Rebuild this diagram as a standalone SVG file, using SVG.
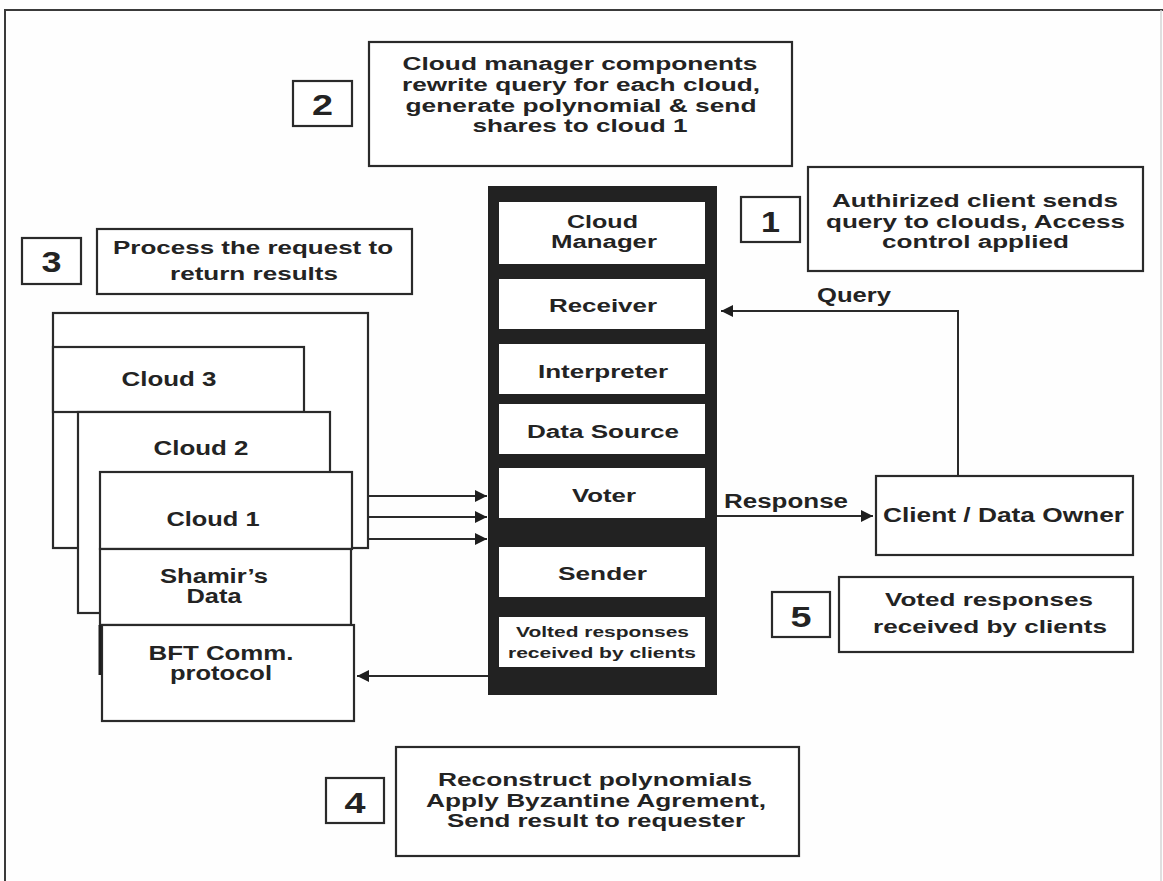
<svg xmlns="http://www.w3.org/2000/svg" width="1163" height="881" viewBox="0 0 1163 881">
  <style>
    .bg { fill: #fefefe; }
    .box { fill: #ffffff; stroke: #2a2a2a; stroke-width: 2.2; }
    .frame { fill: none; stroke: #3a3a3a; stroke-width: 2; }
    .col { fill: #222222; }
    .cell { fill: #ffffff; }
    .t { font-family: "Liberation Sans", Arial, sans-serif; font-weight: bold; fill: #232323; text-anchor: middle; }
    .s18 { font-size: 18px; }
    .s15 { font-size: 15px; }
    .s20 { font-size: 20px; }
    .s21 { font-size: 21px; }
    .num { font-size: 30px; }
    .wire { fill: none; stroke: #2a2a2a; stroke-width: 2; }
  </style>
  <defs>
    <marker id="arrow" viewBox="0 0 12 12" refX="12" refY="6" markerWidth="12" markerHeight="12" markerUnits="userSpaceOnUse" orient="auto">
      <path d="M0,0 L12,6 L0,12 Z" fill="#1e1e1e"/>
    </marker>
  </defs>

  <rect class="bg" x="0" y="0" width="1163" height="881"/>

  <!-- outer frame: left and top edges dark, right edge faint -->
  <path class="frame" d="M5,881 V10 H1163"/>
  <line x1="1161" y1="10" x2="1161" y2="881" stroke="#d4d4d4" stroke-width="1.5"/>

  <!-- step 2 -->
  <g id="step2-num">
    <rect class="box" x="293" y="81" width="59" height="45"/>
    <text class="t num" x="322.5" y="115" textLength="21" lengthAdjust="spacingAndGlyphs">2</text>
  </g>
  <g id="step2-note">
    <rect class="box" x="369" y="42" width="423" height="124"/>
    <text class="t s18" x="580" y="70" textLength="355" lengthAdjust="spacingAndGlyphs">Cloud manager components</text>
    <text class="t s18" x="581" y="91" textLength="358" lengthAdjust="spacingAndGlyphs">rewrite query for each cloud,</text>
    <text class="t s18" x="581" y="112" textLength="351" lengthAdjust="spacingAndGlyphs">generate polynomial &amp; send</text>
    <text class="t s18" x="580" y="132" textLength="215" lengthAdjust="spacingAndGlyphs">shares to cloud 1</text>
  </g>

  <!-- step 1 -->
  <g id="step1-num">
    <rect class="box" x="741" y="197" width="59" height="45"/>
    <text class="t num" x="770.5" y="232" textLength="19" lengthAdjust="spacingAndGlyphs">1</text>
  </g>
  <g id="step1-note">
    <rect class="box" x="808" y="167" width="335" height="104"/>
    <text class="t s18" x="975" y="207" textLength="286" lengthAdjust="spacingAndGlyphs">Authirized client sends</text>
    <text class="t s18" x="975.5" y="228" textLength="299" lengthAdjust="spacingAndGlyphs">query to clouds, Access</text>
    <text class="t s18" x="975.5" y="248" textLength="187" lengthAdjust="spacingAndGlyphs">control applied</text>
  </g>

  <!-- step 3 -->
  <g id="step3-num">
    <rect class="box" x="22" y="238" width="59" height="46"/>
    <text class="t num" x="51.5" y="272" textLength="20" lengthAdjust="spacingAndGlyphs">3</text>
  </g>
  <g id="step3-note">
    <rect class="box" x="97" y="229" width="315" height="65"/>
    <text class="t s18" x="253" y="254" textLength="280" lengthAdjust="spacingAndGlyphs">Process the request to</text>
    <text class="t s18" x="254" y="280" textLength="168" lengthAdjust="spacingAndGlyphs">return results</text>
  </g>

  <!-- cloud stack, back to front -->
  <g id="cloud-stack-back">
    <rect class="box" x="53" y="313" width="315" height="235"/>
  </g>
  <g id="cloud3">
    <rect class="box" x="53" y="347" width="251" height="65"/>
    <text class="t s21" x="169" y="386" textLength="95" lengthAdjust="spacingAndGlyphs">Cloud 3</text>
  </g>
  <g id="cloud2">
    <rect class="box" x="78" y="412" width="252" height="201"/>
    <text class="t s21" x="201" y="455" textLength="95" lengthAdjust="spacingAndGlyphs">Cloud 2</text>
  </g>
  <g id="cloud1">
    <rect class="box" x="100" y="472" width="252" height="77"/>
    <text class="t s21" x="213" y="526" textLength="93" lengthAdjust="spacingAndGlyphs">Cloud 1</text>
  </g>
  <g id="shamir-data">
    <rect class="box" x="100" y="549" width="251" height="76"/>
    <text class="t s20" x="214" y="583" textLength="108" lengthAdjust="spacingAndGlyphs">Shamir’s</text>
    <text class="t s20" x="214" y="603" textLength="55" lengthAdjust="spacingAndGlyphs">Data</text>
  </g>
  <g id="bft-protocol">
    <rect class="box" x="102" y="625" width="252" height="96"/>
    <line x1="100" y1="625" x2="100" y2="675" stroke="#1e1e1e" stroke-width="3"/>
    <text class="t s20" x="221" y="660" textLength="145" lengthAdjust="spacingAndGlyphs">BFT Comm.</text>
    <text class="t s20" x="221" y="680" textLength="102" lengthAdjust="spacingAndGlyphs">protocol</text>
  </g>

  <!-- central server column -->
  <g id="server-column">
    <rect class="col" x="488" y="186" width="229" height="509"/>
  </g>
  <g id="cloud-manager">
    <rect class="cell" x="499" y="202" width="206" height="62"/>
    <text class="t s18" x="602.5" y="228" textLength="71" lengthAdjust="spacingAndGlyphs">Cloud</text>
    <text class="t s18" x="604" y="248" textLength="106" lengthAdjust="spacingAndGlyphs">Manager</text>
  </g>
  <g id="receiver">
    <rect class="cell" x="499" y="279" width="206" height="50"/>
    <text class="t s18" x="603" y="312" textLength="108" lengthAdjust="spacingAndGlyphs">Receiver</text>
  </g>
  <g id="interpreter">
    <rect class="cell" x="499" y="344" width="206" height="50"/>
    <text class="t s18" x="603" y="378" textLength="130" lengthAdjust="spacingAndGlyphs">Interpreter</text>
  </g>
  <g id="data-source">
    <rect class="cell" x="499" y="404" width="206" height="50"/>
    <text class="t s18" x="603" y="438" textLength="152" lengthAdjust="spacingAndGlyphs">Data Source</text>
  </g>
  <g id="voter">
    <rect class="cell" x="499" y="468" width="206" height="50"/>
    <text class="t s18" x="604" y="502" textLength="64" lengthAdjust="spacingAndGlyphs">Voter</text>
  </g>
  <g id="sender">
    <rect class="cell" x="499" y="547" width="206" height="50"/>
    <text class="t s18" x="602.5" y="580" textLength="89" lengthAdjust="spacingAndGlyphs">Sender</text>
  </g>
  <g id="volted-responses">
    <rect class="cell" x="499" y="617" width="206" height="50"/>
    <text class="t s15" x="602.5" y="637" textLength="173" lengthAdjust="spacingAndGlyphs">Volted responses</text>
    <text class="t s15" x="602" y="658" textLength="188" lengthAdjust="spacingAndGlyphs">received by clients</text>
  </g>

  <!-- client -->
  <g id="client">
    <rect class="box" x="876" y="476" width="257" height="79"/>
    <text class="t s20" x="1003.5" y="522" textLength="241" lengthAdjust="spacingAndGlyphs">Client / Data Owner</text>
  </g>

  <!-- step 5 -->
  <g id="step5-num">
    <rect class="box" x="772" y="592" width="58" height="45"/>
    <text class="t num" x="801" y="627" textLength="21" lengthAdjust="spacingAndGlyphs">5</text>
  </g>
  <g id="step5-note">
    <rect class="box" x="839" y="577" width="294" height="75"/>
    <text class="t s18" x="989" y="606" textLength="208" lengthAdjust="spacingAndGlyphs">Voted responses</text>
    <text class="t s18" x="990" y="633" textLength="234" lengthAdjust="spacingAndGlyphs">received by clients</text>
  </g>

  <!-- step 4 -->
  <g id="step4-num">
    <rect class="box" x="326" y="778" width="58" height="45"/>
    <text class="t num" x="355" y="813" textLength="21" lengthAdjust="spacingAndGlyphs">4</text>
  </g>
  <g id="step4-note">
    <rect class="box" x="396" y="747" width="403" height="109"/>
    <text class="t s18" x="595" y="786" textLength="314" lengthAdjust="spacingAndGlyphs">Reconstruct polynomials</text>
    <text class="t s18" x="596" y="807" textLength="340" lengthAdjust="spacingAndGlyphs">Apply Byzantine Agrement,</text>
    <text class="t s18" x="596" y="827" textLength="298" lengthAdjust="spacingAndGlyphs">Send result to requester</text>
  </g>

  <!-- connectors -->
  <g id="connectors">
    <line class="wire" x1="368" y1="496" x2="487" y2="496" marker-end="url(#arrow)"/>
    <line class="wire" x1="368" y1="517" x2="487" y2="517" marker-end="url(#arrow)"/>
    <line class="wire" x1="368" y1="539" x2="487" y2="539" marker-end="url(#arrow)"/>
    <line class="wire" x1="488" y1="676" x2="357" y2="676" marker-end="url(#arrow)"/>
    <path class="wire" d="M958,476 V311 H721" marker-end="url(#arrow)"/>
    <line class="wire" x1="717" y1="516" x2="873" y2="516" marker-end="url(#arrow)"/>
    <text class="t s20" x="854" y="302" textLength="74" lengthAdjust="spacingAndGlyphs">Query</text>
    <text class="t s20" x="786" y="508" textLength="124" lengthAdjust="spacingAndGlyphs">Response</text>
  </g>
</svg>
